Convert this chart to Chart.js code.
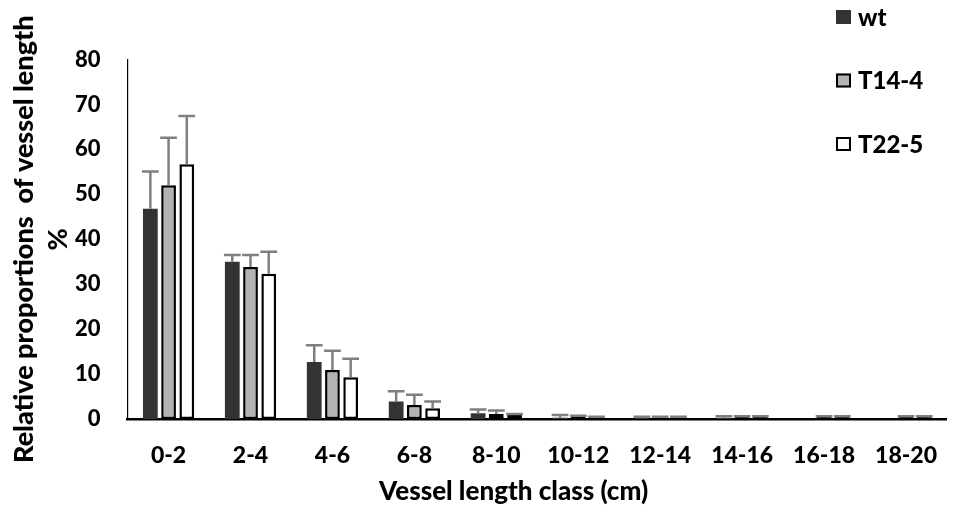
<!DOCTYPE html>
<html>
<head>
<meta charset="utf-8">
<script src="https://cdn.jsdelivr.net/npm/chart.js@4.4.1/dist/chart.umd.min.js"></script>
<style>
  html, body { margin: 0; padding: 0; background: #ffffff; }
  canvas { display: block; }
</style>
</head>
<body>
<canvas id="chart" width="960" height="514"></canvas>
<script>
// Length classes of the vessels (cm)
const categories = ['0-2', '2-4', '4-6', '6-8', '8-10', '10-12', '12-14', '14-16', '16-18', '18-20'];

// Mean share of total vessel length per class (%) and its standard deviation
const wtMeans   = [46.8, 35.0, 12.7, 3.9, 1.3, 0.3, 0.3, 0.3, 0.0, 0.0];
const wtSD      = [8.3, 1.5, 3.7, 2.3, 0.8, 0.6, 0.2, 0.3, 0.0, 0.0];
const t14Means  = [52.0, 33.8, 10.9, 3.1, 1.1, 0.6, 0.3, 0.5, 0.5, 0.5];
const t14SD     = [10.6, 2.7, 4.3, 2.3, 0.8, 0.1, 0.2, 0.1, 0.1, 0.1];
const t22Means  = [56.7, 32.3, 9.3, 2.4, 0.9, 0.4, 0.3, 0.5, 0.5, 0.5];
const t22SD     = [10.7, 4.9, 4.1, 1.5, 0.2, 0.1, 0.2, 0.1, 0.1, 0.1];

const seriesNames = ['wt', 'T14-4', 'T22-5'];
const yTickValues = [0, 10, 20, 30, 40, 50, 60, 70, 80];
const xTitleText = 'Vessel length class (cm)';
const yTitleLines = ['Relative proportions  of vessel length', '%'];

const FONT = 'Lato, "Open Sans", "DejaVu Sans", sans-serif';
const WEIGHT = '900';

// Standard-deviation whiskers above each bar
const errorBars = {
  id: 'errorBars',
  afterDatasetsDraw(chart) {
    const { ctx } = chart;
    const yScale = chart.scales.y;
    ctx.save();
    ctx.strokeStyle = '#7f7f7f';
    ctx.lineWidth = 2.5;
    chart.data.datasets.forEach((ds, i) => {
      const meta = chart.getDatasetMeta(i);
      meta.data.forEach((bar, j) => {
        const sd = ds.sd[j];
        if (!sd) return;
        const yTop = yScale.getPixelForValue(ds.data[j] + sd);
        const half = bar.width / 2 + 1;
        ctx.beginPath();
        ctx.moveTo(bar.x, bar.y);
        ctx.lineTo(bar.x, yTop);
        ctx.moveTo(bar.x - half, yTop);
        ctx.lineTo(bar.x + half, yTop);
        ctx.stroke();
      });
    });
    ctx.restore();
  }
};

// Axis titles
const axisTitles = {
  id: 'axisTitles',
  afterDraw(chart) {
    const { ctx, chartArea } = chart;
    ctx.save();
    ctx.fillStyle = '#000000';
    ctx.textAlign = 'center';
    ctx.textBaseline = 'middle';
    // x title
    ctx.font = WEIGHT + ' 26px ' + FONT;
    ctx.fillText(xTitleText, chartArea.left + 386, chart.height - 22);
    // y title, two lines, rotated
    const cy = (chartArea.top + chartArea.bottom) / 2;
    ctx.font = WEIGHT + ' 27px ' + FONT;
    ctx.translate(24, cy);
    ctx.rotate(-Math.PI / 2);
    ctx.fillText(yTitleLines[0], 0, 0);
    ctx.fillText(yTitleLines[1], 0, 34);
    ctx.restore();
  }
};

// Legend in the top-right corner
const cornerLegend = {
  id: 'cornerLegend',
  afterDraw(chart) {
    const { ctx } = chart;
    const x0 = chart.width - 124;
    const y0 = 10;
    const step = 63.5;
    ctx.save();
    ctx.font = WEIGHT + ' 24px ' + FONT;
    ctx.textAlign = 'left';
    ctx.textBaseline = 'middle';
    chart.data.datasets.forEach((ds, i) => {
      const y = y0 + i * step;
      ctx.fillStyle = ds.backgroundColor;
      ctx.fillRect(x0, y, 15, 14);
      if (ds.borderWidth) {
        ctx.strokeStyle = ds.borderColor;
        ctx.lineWidth = 2;
        ctx.strokeRect(x0 + 1, y + 1, 13, 12);
      }
      ctx.fillStyle = '#000000';
      ctx.fillText(ds.label, x0 + 22, y + 8);
    });
    ctx.restore();
  }
};

new Chart(document.getElementById('chart'), {
  type: 'bar',
  data: {
    labels: categories,
    datasets: [
      { label: seriesNames[0], data: wtMeans, sd: wtSD,
        backgroundColor: '#333333', borderColor: '#333333', borderWidth: 0 },
      { label: seriesNames[1], data: t14Means, sd: t14SD,
        backgroundColor: '#b3b3b3', borderColor: '#000000', borderWidth: 2.5, borderSkipped: false },
      { label: seriesNames[2], data: t22Means, sd: t22SD,
        backgroundColor: '#ffffff', borderColor: '#000000', borderWidth: 2.5, borderSkipped: false }
    ]
  },
  options: {
    responsive: false,
    animation: false,
    events: [],
    categoryPercentage: 0.667,
    barPercentage: 0.81,
    layout: { padding: { top: 59.5, right: 0, left: 0, bottom: 0 } },
    plugins: {
      legend: { display: false },
      tooltip: { enabled: false },
      title: { display: false }
    },
    scales: {
      x: {
        grid: { display: false, drawTicks: false },
        border: { display: true, color: '#000000', width: 2.5 },
        ticks: { color: '#000000', font: { family: FONT, size: 23, weight: WEIGHT }, padding: 23 },
        afterFit(scale) { scale.height = 95; }
      },
      y: {
        min: 0,
        max: 80,
        grid: { display: false, drawTicks: false },
        border: { display: true, color: '#000000', width: 1.2 },
        afterBuildTicks(scale) { scale.ticks = yTickValues.map(v => ({ value: v })); },
        ticks: { color: '#000000', font: { family: FONT, size: 22, weight: WEIGHT }, padding: 27 },
        afterFit(scale) { scale.width = 127.6; }
      }
    }
  },
  plugins: [errorBars, axisTitles, cornerLegend]
});
</script>
</body>
</html>
